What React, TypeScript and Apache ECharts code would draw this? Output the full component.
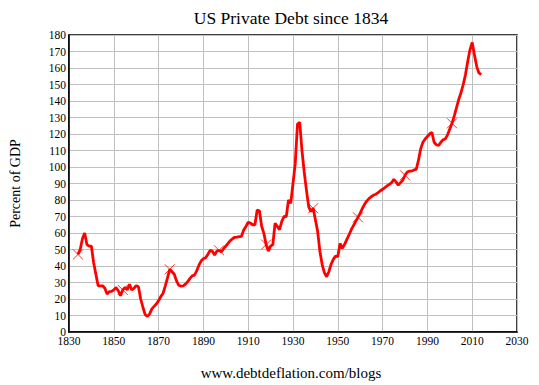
import React, { useEffect, useRef } from "react";
import * as echarts from "echarts";

const years: number[] = [
  1834, 1835, 1836, 1837, 1838, 1839, 1840, 1841, 1842, 1843, 1844, 1845, 1846, 1847, 1848, 1849,
  1850, 1851, 1852, 1853, 1854, 1855, 1856, 1857, 1858, 1859, 1860, 1861, 1862, 1863, 1864, 1865,
  1866, 1867, 1868, 1869, 1870, 1871, 1872, 1873, 1874, 1875, 1876, 1877, 1878, 1879, 1880, 1881,
  1882, 1883, 1884, 1885, 1886, 1887, 1888, 1889, 1890, 1891, 1892, 1893, 1894, 1895, 1896, 1897,
  1898, 1899, 1900, 1901, 1902, 1903, 1904, 1905, 1906, 1907, 1908, 1909, 1910, 1911, 1912, 1913,
  1914, 1915, 1916, 1917, 1918, 1919, 1920, 1921, 1922, 1923, 1924, 1925, 1926, 1927, 1928, 1929,
  1930, 1931, 1932, 1933, 1934, 1935, 1936, 1937, 1938, 1939, 1940, 1941, 1942, 1943, 1944, 1945,
  1946, 1947, 1948, 1949, 1950, 1951, 1952, 1953, 1954, 1955, 1956, 1957, 1958, 1959, 1960, 1961,
  1962, 1963, 1964, 1965, 1966, 1967, 1968, 1969, 1970, 1971, 1972, 1973, 1974, 1975, 1976, 1977,
  1978, 1979, 1980, 1981, 1982, 1983, 1984, 1985, 1986, 1987, 1988, 1989, 1990, 1991, 1992, 1993,
  1994, 1995, 1996, 1997, 1998, 1999, 2000, 2001, 2002, 2003, 2004, 2005, 2006, 2007, 2008, 2009,
  2010, 2011, 2012, 2013, 2014,
];

const debtPct: number[] = [
  47, 50, 56.5, 60, 53, 52, 52, 42, 35, 28, 28, 28, 26.5, 23, 24.5, 24.6,
  25.5, 27, 25, 22, 25.5, 27, 25.5, 29, 25.5, 26.5, 28, 27.5, 20, 15, 10.5, 9.5,
  11, 14, 15.5, 17, 19, 21.5, 23.5, 28, 33, 38, 36.5, 35, 31, 28.3, 27.8, 28,
  29, 30.5, 32.5, 34, 34.5, 37, 40.5, 43, 44.5, 45, 47, 49.5, 49, 46.7, 49, 49.5,
  48.5, 50.5, 52, 53.7, 55.4, 56.5, 57.4, 57.5, 57.8, 58, 61.8, 64, 66.5, 66, 65, 65,
  73.9, 73.5, 64.2, 59.8, 53, 49, 52, 53, 65.9, 64, 62, 67, 70, 70, 80, 78,
  90, 102, 126, 127, 110, 97, 86, 76, 73, 75, 68, 61, 49, 41, 36, 33.5,
  36.5, 41, 44, 46, 45.7, 53.7, 50.7, 53, 56, 58.8, 62, 64.5, 67, 69.5, 72, 75,
  77.5, 79.5, 81, 82, 83, 83.5, 84.5, 85.6, 86.5, 87.5, 88.5, 89.5, 90.5, 92.5, 91, 89,
  90.5, 92, 95, 97, 97.5, 97.5, 98.2, 98.5, 104, 111, 115, 117, 118.5, 120, 121, 115,
  113.5, 113, 115, 116.5, 117, 119.5, 123, 126.5, 131, 136, 141, 145, 150, 156, 164, 171,
  175.5, 168, 161, 157, 156,
];

const markerYears: number[] = [1834, 1854, 1875, 1897, 1918, 1939, 1959, 1980, 2001];
const markerValues: number[] = [47, 25.5, 38, 49.5, 53, 75, 69.5, 95, 126.5];

const xTicks = { min: 1830, max: 2030, interval: 20 };
const yTicks = { min: 0, max: 180, interval: 10 };

const titleText = "US Private Debt since 1834";
const yAxisName = "Percent of GDP";
const footerText = "www.debtdeflation.com/blogs";

const FONT = "Liberation Serif";
const TICK_FONT = "Times New Roman, Liberation Serif, serif";

export default function App() {
  const ref = useRef<HTMLDivElement>(null);
  useEffect(() => {
    if (!ref.current) return;
    const chart = echarts.init(ref.current, null, { renderer: "svg" });
    const GRID = { left: 65, right: 22, top: 35, bottom: 53 };
    const plotCenterX = GRID.left + (539 - GRID.left - GRID.right) / 2;
    chart.setOption({
      animation: false,
      backgroundColor: "#ffffff",
      textStyle: { fontFamily: FONT },
      grid: {
        ...GRID,
        show: true,
        borderColor: "#000000",
        borderWidth: 1.5,
        backgroundColor: "transparent",
      },
      graphic: [
        {
          type: "text",
          x: plotCenterX,
          y: 18,
          style: {
            text: titleText,
            fontFamily: FONT,
            fontSize: 17.5,
            fill: "#000",
            textAlign: "center",
            textVerticalAlign: "middle",
          },
        },
        {
          type: "text",
          x: plotCenterX,
          y: 373,
          style: {
            text: footerText,
            fontFamily: FONT,
            fontSize: 15,
            fill: "#000",
            textAlign: "center",
            textVerticalAlign: "middle",
          },
        },
      ],
      xAxis: {
        type: "value",
        min: xTicks.min,
        max: xTicks.max,
        interval: xTicks.interval,
        axisLine: { show: true, lineStyle: { color: "#000", width: 1.5 } },
        axisTick: { show: false },
        axisLabel: {
          color: "#000",
          fontFamily: TICK_FONT,
          fontSize: 11.5,
          margin: 3,
          formatter: (v: number) => String(v),
        },
        splitLine: { show: true, lineStyle: { color: "#c0c0c0", width: 1 } },
      },
      yAxis: {
        type: "value",
        min: yTicks.min,
        max: yTicks.max,
        interval: yTicks.interval,
        name: yAxisName,
        nameLocation: "middle",
        nameGap: 47,
        nameTextStyle: { color: "#000", fontFamily: FONT, fontSize: 14 },
        axisLine: { show: true, lineStyle: { color: "#000", width: 1.5 } },
        axisTick: { show: false },
        axisLabel: {
          color: "#000",
          fontFamily: TICK_FONT,
          fontSize: 11.5,
          margin: 3,
          formatter: (v: number) => String(v),
        },
        splitLine: { show: true, lineStyle: { color: "#c0c0c0", width: 1 } },
      },
      series: [
        {
          type: "line",
          data: years.map((y, i) => [y, debtPct[i]]),
          showSymbol: false,
          symbol: "none",
          lineStyle: { color: "#ff0000", width: 2.8 },
          z: 3,
        },
        {
          type: "scatter",
          data: markerYears.map((y, i) => [y, markerValues[i]]),
          symbol: "path://M0,0L10,10M10,0L0,10",
          symbolSize: 10,
          itemStyle: { color: "transparent", borderColor: "#ff0000", borderWidth: 1 },
          z: 4,
        },
      ],
    });
    return () => chart.dispose();
  }, []);
  return (
    <div
      ref={ref}
      style={{ position: "absolute", left: 0, top: 0, width: 539, height: 385 }}
    />
  );
}
